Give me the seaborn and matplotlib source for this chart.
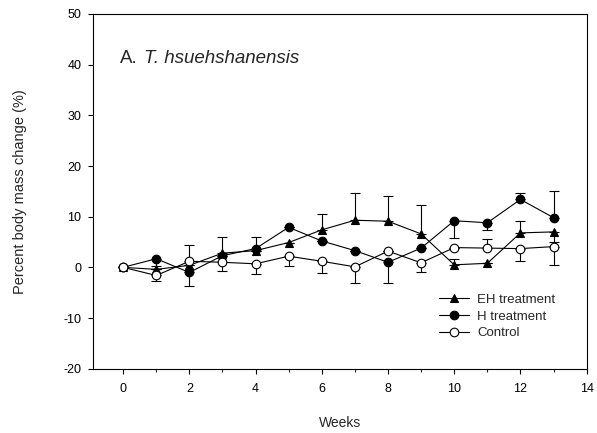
import matplotlib
matplotlib.use("Agg")
import matplotlib.pyplot as plt
import seaborn as sns
import pandas as pd
import numpy as np
from matplotlib.ticker import MultipleLocator

weeks = list(range(14))
eh = [0, -0.4, 0.4, 2.8, 3.3, 4.9, 7.4, 9.3, 9.1, 6.6, 0.5, 0.8, 6.8, 7.0]
h = [0, 1.7, -1.0, 2.3, 3.7, 7.9, 5.2, 3.3, 1.0, 3.8, 9.2, 8.8, 13.4, 9.8]
ctrl = [0, -1.6, 1.2, 1.0, 0.7, 2.2, 1.2, 0.1, 3.2, 0.9, 3.9, 3.8, 3.7, 4.1]

eh_lo = [0, 0, 0, 0, 0, 0, 0, 0, 0, 0, 0, 0, 0, 1.9]
eh_hi = [0, 0, 0, 3.2, 0, 0, 3.1, 5.3, 4.9, 5.8, 1.2, 0, 2.3, 0]
h_lo = [0, 1.5, 2.6, 0, 0, 0, 0, 0, 4.1, 0, 3.5, 1.5, 0, 0]
h_hi = [0, 0, 0, 0, 2.3, 0, 0, 0, 0, 0, 0, 0, 1.3, 5.3]
ctrl_lo = [0, 1.1, 0, 1.7, 2.0, 1.9, 2.4, 3.1, 0, 1.8, 0, 0, 2.4, 3.6]
ctrl_hi = [0, 0, 3.2, 0, 0, 0, 0, 0, 0, 0, 0, 1.7, 0, 0]

labels = ["EH treatment", "H treatment", "Control"]
title_prefix = "A."
title_species = "T. hsuehshanensis"
xlabel = "Weeks"
ylabel = "Percent body mass change (%)"

sns.set_style("ticks")
plt.rcParams["font.family"] = ["Liberation Sans", "DejaVu Sans"]
plt.rcParams["axes.unicode_minus"] = False

fig = plt.figure(figsize=(5.97, 4.33), dpi=100)
ax = fig.add_axes([0.1563, 0.1485, 0.8264, 0.8192])

series = [
    (eh, eh_lo, eh_hi, "^", "black"),
    (h, h_lo, h_hi, "o", "black"),
    (ctrl, ctrl_lo, ctrl_hi, "o", "white"),
]

for vals, lo, hi, m, fc in series:
    ax.errorbar(weeks, vals, yerr=[lo, hi], fmt="none", ecolor="black",
                elinewidth=0.8, capsize=3.8, capthick=0.8, zorder=1)

for i, ((vals, lo, hi, m, fc), lab) in enumerate(zip(series, labels)):
    df = pd.DataFrame({"Weeks": weeks, "val": vals})
    sns.lineplot(data=df, x="Weeks", y="val", ax=ax, color="black",
                 linewidth=0.8, marker=m, markersize=6.2 if m == "o" else 6.0,
                 markerfacecolor=fc, markeredgecolor="black",
                 markeredgewidth=0.8, label=lab, zorder=2 + i)

ax.set_xlim(-0.9, 14)
ax.set_ylim(-20, 50)
ax.xaxis.set_major_locator(MultipleLocator(2))
ax.xaxis.set_minor_locator(MultipleLocator(1))
ax.yaxis.set_major_locator(MultipleLocator(10))
ax.tick_params(axis="both", which="major", direction="out", length=3.6,
               width=0.8, labelsize=9, colors="black", pad=5)
ax.tick_params(axis="x", which="major", pad=7)
ax.tick_params(axis="x", which="minor", direction="out", length=2.5, width=0.8)
for s in ax.spines.values():
    s.set_visible(True)
    s.set_linewidth(0.8)
    s.set_color("black")

ax.set_xlabel(xlabel, fontsize=10, labelpad=15)
ax.set_ylabel(ylabel, fontsize=10.5, labelpad=26)

ax.text(-0.08, 40.3, title_prefix, fontsize=13.5, ha="left", va="baseline")
ax.text(0.64, 40.3, title_species, fontsize=13.5, ha="left", va="baseline",
        style="italic")

leg = ax.legend(loc="upper left", bbox_to_anchor=(0.69, 0.227), frameon=False,
                fontsize=9.5, handlelength=2.3, handletextpad=0.6,
                labelspacing=0.35, borderaxespad=0)

fig.savefig("out.png", dpi=100)
